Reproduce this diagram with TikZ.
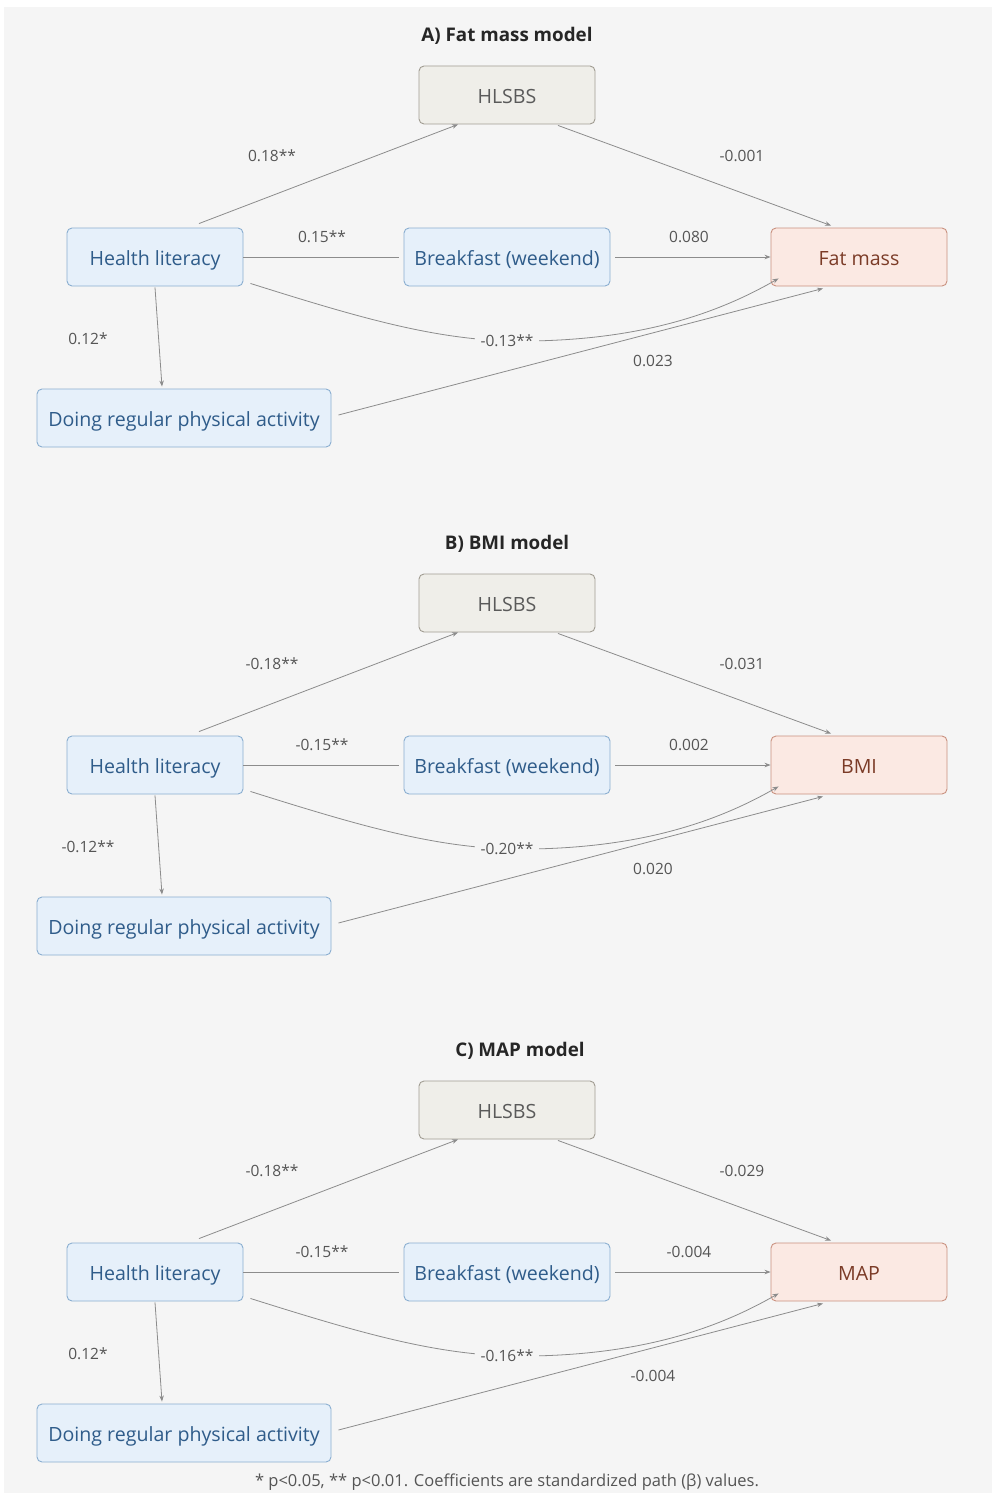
\documentclass[tikz,border=0pt]{standalone}
\usepackage{fontspec}
\setmainfont{Open Sans}
\usetikzlibrary{arrows.meta}
\definecolor{bg}{HTML}{F5F5F5}
\definecolor{bluefill}{HTML}{E6F0FA}
\definecolor{blueline}{HTML}{8AAED0}
\definecolor{bluetext}{HTML}{2F5C8A}
\definecolor{hsfill}{HTML}{EFEEE9}
\definecolor{hsline}{HTML}{A09C92}
\definecolor{hstext}{HTML}{5A5A5A}
\definecolor{outfill}{HTML}{FBE9E3}
\definecolor{outline}{HTML}{C9917F}
\definecolor{outtext}{HTML}{7B3B27}
\definecolor{edgecol}{HTML}{8C8C8C}
\definecolor{lbltext}{HTML}{555555}
\tikzset{
  box/.style={rectangle, rounded corners=5pt, line width=0.9pt, minimum height=58pt, inner sep=0pt,
    text height=17pt, text depth=0pt, font=\fontsize{19.6}{22}\selectfont},
  bluebox/.style={box, fill=bluefill, draw=blueline, text=bluetext},
  hsbox/.style={box, fill=hsfill, draw=hsline, text=hstext, minimum width=176pt},
  outbox/.style={box, fill=outfill, draw=outline, text=outtext, minimum width=176pt},
  edge/.style={draw=edgecol, line width=0.8pt, -{Stealth[length=6pt,width=4.5pt]}},
  plain/.style={draw=edgecol, line width=0.8pt},
  lbl/.style={text=lbltext, font=\fontsize{15.5}{18}\selectfont, inner sep=1pt},
  ttl/.style={text=black!85, font=\bfseries\fontsize{18.8}{22}\selectfont},
}
% #1 suffix, #2 y offset, #3 title, #4 outcome, #5 HL-HS, #6 HS-out, #7 HL-BF, #8 BF-out, #9 HL-Do
\newcommand\drawpanel[9]{%
\begin{scope}[shift={(0,#2)}]
  \node[ttl] (t#1) at (\titlex,36) {#3};
  \node[hsbox] (hs#1) at (507,95) {HLSBS};
  \node[bluebox, minimum width=176pt] (hl#1) at (155,257) {Health literacy};
  \node[bluebox, minimum width=206pt] (bf#1) at (507,257) {Breakfast (weekend)};
  \node[outbox] (out#1) at (859,257) {#4};
  \node[bluebox, minimum width=294pt] (do#1) at (184,418) {Doing regular physical activity};
  \draw[edge] ([xshift=44pt,yshift=4pt]hl#1.north) -- ([xshift=-49pt]hs#1.south);
  \draw[edge] ([xshift=51pt,yshift=-1pt]hs#1.south) -- ([xshift=-28pt,yshift=2pt]out#1.north);
  \draw[plain, shorten >=5pt] (hl#1.east) -- (bf#1.west);
  \draw[edge, shorten <=5pt] (bf#1.east) -- (out#1.west);
  \draw[edge] ([yshift=-1pt]hl#1.south) -- ([xshift=-22pt,yshift=2pt]do#1.north);
  \coordinate (cm#1) at (507,341);
  \draw[edge] ([xshift=7pt,yshift=3pt]hl#1.south east) .. controls (360,318) and (430,338) .. (cm#1)
     .. controls (640,343) and (720,312) .. ([xshift=8pt,yshift=8pt]out#1.south west);
  \draw[edge] ([xshift=7pt,yshift=3pt]do#1.east) -- ([xshift=-36pt,yshift=-2pt]out#1.south);
  \node[lbl] (l1#1) at (272,156) {#5};
  \node[lbl] (l2#1) at (742,156) {#6};
  \node[lbl] (l3#1) at (322,237) {#7};
  \node[lbl] (l4#1) at (689,237) {#8};
  \node[lbl] (l5#1) at (88,339) {#9};
  \node[lbl, fill=bg, inner xsep=6pt] (l6#1) at (cm#1) {\lblcurve};
  \node[lbl] (l7#1) at (653,361) {\lbldo};
\end{scope}}
\begin{document}
\begin{tikzpicture}[x=1pt,y=-1pt]
\useasboundingbox (0,0) rectangle (992,1493);
\fill[white] (0,0) rectangle (992,1493);
\fill[bg] (4,7) rectangle (992,1493);
\def\titlex{507}
\def\lblcurve{-0.13**}\def\lbldo{0.023}
\drawpanel{a}{0}{A) Fat mass model}{Fat mass}{0.18**}{-0.001}{0.15**}{0.080}{0.12*}
\def\lblcurve{-0.20**}\def\lbldo{0.020}
\drawpanel{b}{508}{B) BMI model}{BMI}{-0.18**}{-0.031}{-0.15**}{0.002}{-0.12**}
\def\titlex{520}
\def\lblcurve{-0.16**}\def\lbldo{-0.004}
\drawpanel{c}{1015}{C) MAP model}{MAP}{-0.18**}{-0.029}{-0.15**}{-0.004}{0.12*}
\node[lbl, font=\fontsize{16.5}{19}\selectfont] (foot) at (507,1482) {* p<0.05, ** p<0.01. Coefficients are standardized path (β) values.};
\end{tikzpicture}
\end{document}
